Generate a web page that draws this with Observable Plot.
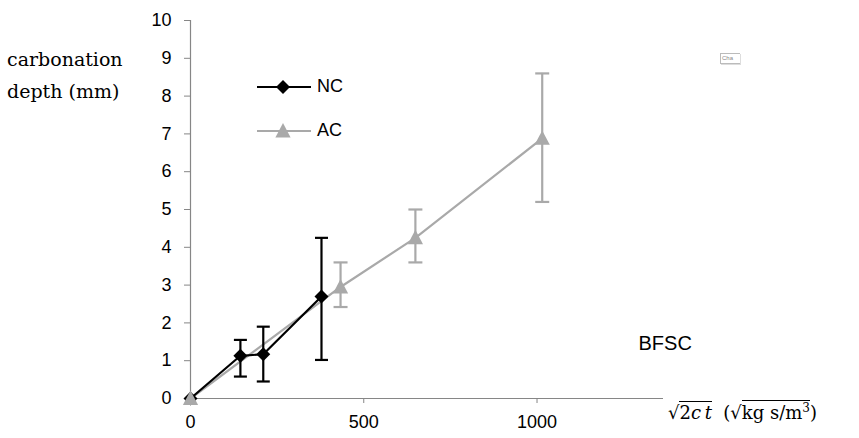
<!DOCTYPE html>
<html>
<head>
<meta charset="utf-8">
<script src="https://cdn.jsdelivr.net/npm/d3@7"></script>
<script src="https://cdn.jsdelivr.net/npm/@observablehq/plot@0.6"></script>
<style>
  html, body { margin: 0; padding: 0; background: #fff; }
  #wrap { position: relative; width: 859px; height: 438px; }
  .ylab { position: absolute; left: 7px; font-family: "DejaVu Serif", serif; font-size: 19px; line-height: 1; color: #000; white-space: nowrap; }
  .leg { position: absolute; font-family: "Liberation Sans", Arial, sans-serif; font-size: 18px; color: #000; }
  .xlab { position: absolute; left: 668px; top: 400px; font-family: "DejaVu Serif", serif; font-size: 18px; color: #000; white-space: nowrap; }
  .rad { display: inline-block; }
  .vin { border-top: 1.2px solid #000; padding-top: 1px; display: inline-block; line-height: 1.1; }
  .cha { position: absolute; left: 720px; top: 53px; width: 18px; height: 9px; border: 1px solid #bbb; border-right: none; font-family: "Liberation Sans", Arial, sans-serif; font-size: 6px; color: #888; overflow: hidden; line-height: 9px; padding-left: 1px; box-shadow: 1px 1px 0 #ddd; }
</style>
</head>
<body>
<div id="wrap"></div>
<script>
// ---- data ----
const ncX  = [0, 144, 210, 378];
const ncY  = [0, 1.13, 1.17, 2.7];
const ncLo = [null, 0.58, 0.45, 1.02];
const ncHi = [null, 1.55, 1.9, 4.25];

const acX  = [0, 433, 649, 1015];
const acY  = [0, 2.95, 4.25, 6.88];
const acLo = [null, 2.42, 3.6, 5.2];
const acHi = [null, 3.6, 5.0, 8.6];

const xTicks = [0, 500, 1000];
const yTicks = [0, 1, 2, 3, 4, 5, 6, 7, 8, 9, 10];
const seriesNames = ["NC", "AC"];
const annotation = "BFSC";

// ---- build tables ----
const nc = ncX.map((x, i) => ({x, y: ncY[i], lo: ncLo[i], hi: ncHi[i]}));
const ac = acX.map((x, i) => ({x, y: acY[i], lo: acLo[i], hi: acHi[i]}));
const ncErr = nc.filter(d => d.lo != null);
const acErr = ac.filter(d => d.lo != null);

const NC_COLOR = "#000000";
const AC_COLOR = "#a9a9a9";
const AXIS = "#868686";

const rOf = s => Math.sqrt(s / Math.PI);
const hcap = {draw(ctx, s) { const r = rOf(s); ctx.moveTo(-r, 0); ctx.lineTo(r, 0); }};
const diamond = {draw(ctx, s) { const r = rOf(s); ctx.moveTo(0, -r); ctx.lineTo(r, 0); ctx.lineTo(0, r); ctx.lineTo(-r, 0); ctx.closePath(); }};
const triangle = {draw(ctx, s) { const r = rOf(s); ctx.moveTo(0, -r); ctx.lineTo(r * 0.95, r * 0.8); ctx.lineTo(-r * 0.95, r * 0.8); ctx.closePath(); }};

const chart = Plot.plot({
  width: 859,
  height: 438,
  marginLeft: 190,
  marginRight: 196,
  marginTop: 20,
  marginBottom: 40,
  style: {fontFamily: "'Liberation Sans', Arial, sans-serif", fontSize: "18px", color: "#000", background: "#fff"},
  x: {domain: [0, 1365], axis: null},
  y: {domain: [0, 10], axis: null},
  marks: [
    Plot.ruleY([0], {stroke: AXIS, strokeWidth: 1.2}),
    Plot.ruleX([0], {stroke: AXIS, strokeWidth: 1.2}),
    Plot.axisY({ticks: yTicks, label: null, tickSize: 6, tickPadding: 13, stroke: AXIS, fill: "#000", tickFormat: d => String(d)}),
    Plot.axisX({ticks: xTicks, label: null, tickSize: 5, tickPadding: 12, stroke: AXIS, fill: "#000", tickFormat: d => String(d)}),
    Plot.text([annotation], {frameAnchor: "bottom-right", dx: -25, dy: -49, text: d => d, fontSize: 20, textAnchor: "start"}),
    // AC series
    Plot.ruleX(acErr, {x: "x", y1: "lo", y2: "hi", stroke: AC_COLOR, strokeWidth: 2.2}),
    Plot.dot(acErr, {x: "x", y: "lo", symbol: hcap, r: 7, stroke: AC_COLOR, strokeWidth: 2.2, fill: "none"}),
    Plot.dot(acErr, {x: "x", y: "hi", symbol: hcap, r: 7, stroke: AC_COLOR, strokeWidth: 2.2, fill: "none"}),
    Plot.line(ac, {x: "x", y: "y", stroke: AC_COLOR, strokeWidth: 2.2}),
    // NC series
    Plot.ruleX(ncErr, {x: "x", y1: "lo", y2: "hi", stroke: NC_COLOR, strokeWidth: 2.2}),
    Plot.dot(ncErr, {x: "x", y: "lo", symbol: hcap, r: 6.5, stroke: NC_COLOR, strokeWidth: 2.2, fill: "none"}),
    Plot.dot(ncErr, {x: "x", y: "hi", symbol: hcap, r: 6.5, stroke: NC_COLOR, strokeWidth: 2.2, fill: "none"}),
    Plot.line(nc, {x: "x", y: "y", stroke: NC_COLOR, strokeWidth: 2.2}),
    Plot.dot(nc, {x: "x", y: "y", symbol: diamond, r: 7, fill: NC_COLOR, stroke: "none"}),
    Plot.dot(ac, {x: "x", y: "y", symbol: triangle, r: 8, fill: AC_COLOR, stroke: "none"})
  ]
});

const wrap = document.getElementById("wrap");
wrap.appendChild(chart);
chart.style.position = "absolute";
chart.style.left = "0";
chart.style.top = "0";

// y label
const l1 = document.createElement("div"); l1.className = "ylab"; l1.style.top = "50px"; l1.textContent = "carbonation"; wrap.appendChild(l1);
const l2 = document.createElement("div"); l2.className = "ylab"; l2.style.top = "82px"; l2.textContent = "depth (mm)"; wrap.appendChild(l2);

// legend
const legColors = [NC_COLOR, AC_COLOR];
const legSyms = ["diamond", "triangle"];
seriesNames.forEach((name, i) => {
  const cy = 87 + i * 44;
  const ns = "http://www.w3.org/2000/svg";
  const svg = document.createElementNS(ns, "svg");
  svg.setAttribute("width", 56); svg.setAttribute("height", 20);
  svg.style.position = "absolute"; svg.style.left = "256px"; svg.style.top = (cy - 10) + "px";
  const ln = document.createElementNS(ns, "line");
  ln.setAttribute("x1", 1); ln.setAttribute("x2", 55); ln.setAttribute("y1", 10); ln.setAttribute("y2", 10);
  ln.setAttribute("stroke", legColors[i]); ln.setAttribute("stroke-width", 2.2);
  svg.appendChild(ln);
  const p = document.createElementNS(ns, "path");
  const cx = 27;
  p.setAttribute("d", legSyms[i] === "diamond"
    ? `M${cx},3L${cx+7},10L${cx},17L${cx-7},10Z`
    : `M${cx},2L${cx+7.6},16.4L${cx-7.6},16.4Z`);
  p.setAttribute("fill", legColors[i]);
  svg.appendChild(p);
  wrap.appendChild(svg);
  const t = document.createElement("div"); t.className = "leg"; t.textContent = name;
  t.style.left = "317px"; t.style.top = (cy - 11) + "px";
  wrap.appendChild(t);
});

// x label
const xl = document.createElement("div"); xl.className = "xlab";
xl.innerHTML = '<span class="rad">√</span><span class="vin">2<i>c</i>&thinsp;<i>t</i></span>&nbsp;&nbsp;(<span class="rad">√</span><span class="vin">kg s/m<sup style="font-size:12px">3</sup></span>)';
wrap.appendChild(xl);

// small artifact box
const cha = document.createElement("div"); cha.className = "cha"; cha.textContent = "Cha"; wrap.appendChild(cha);
</script>
</body>
</html>
